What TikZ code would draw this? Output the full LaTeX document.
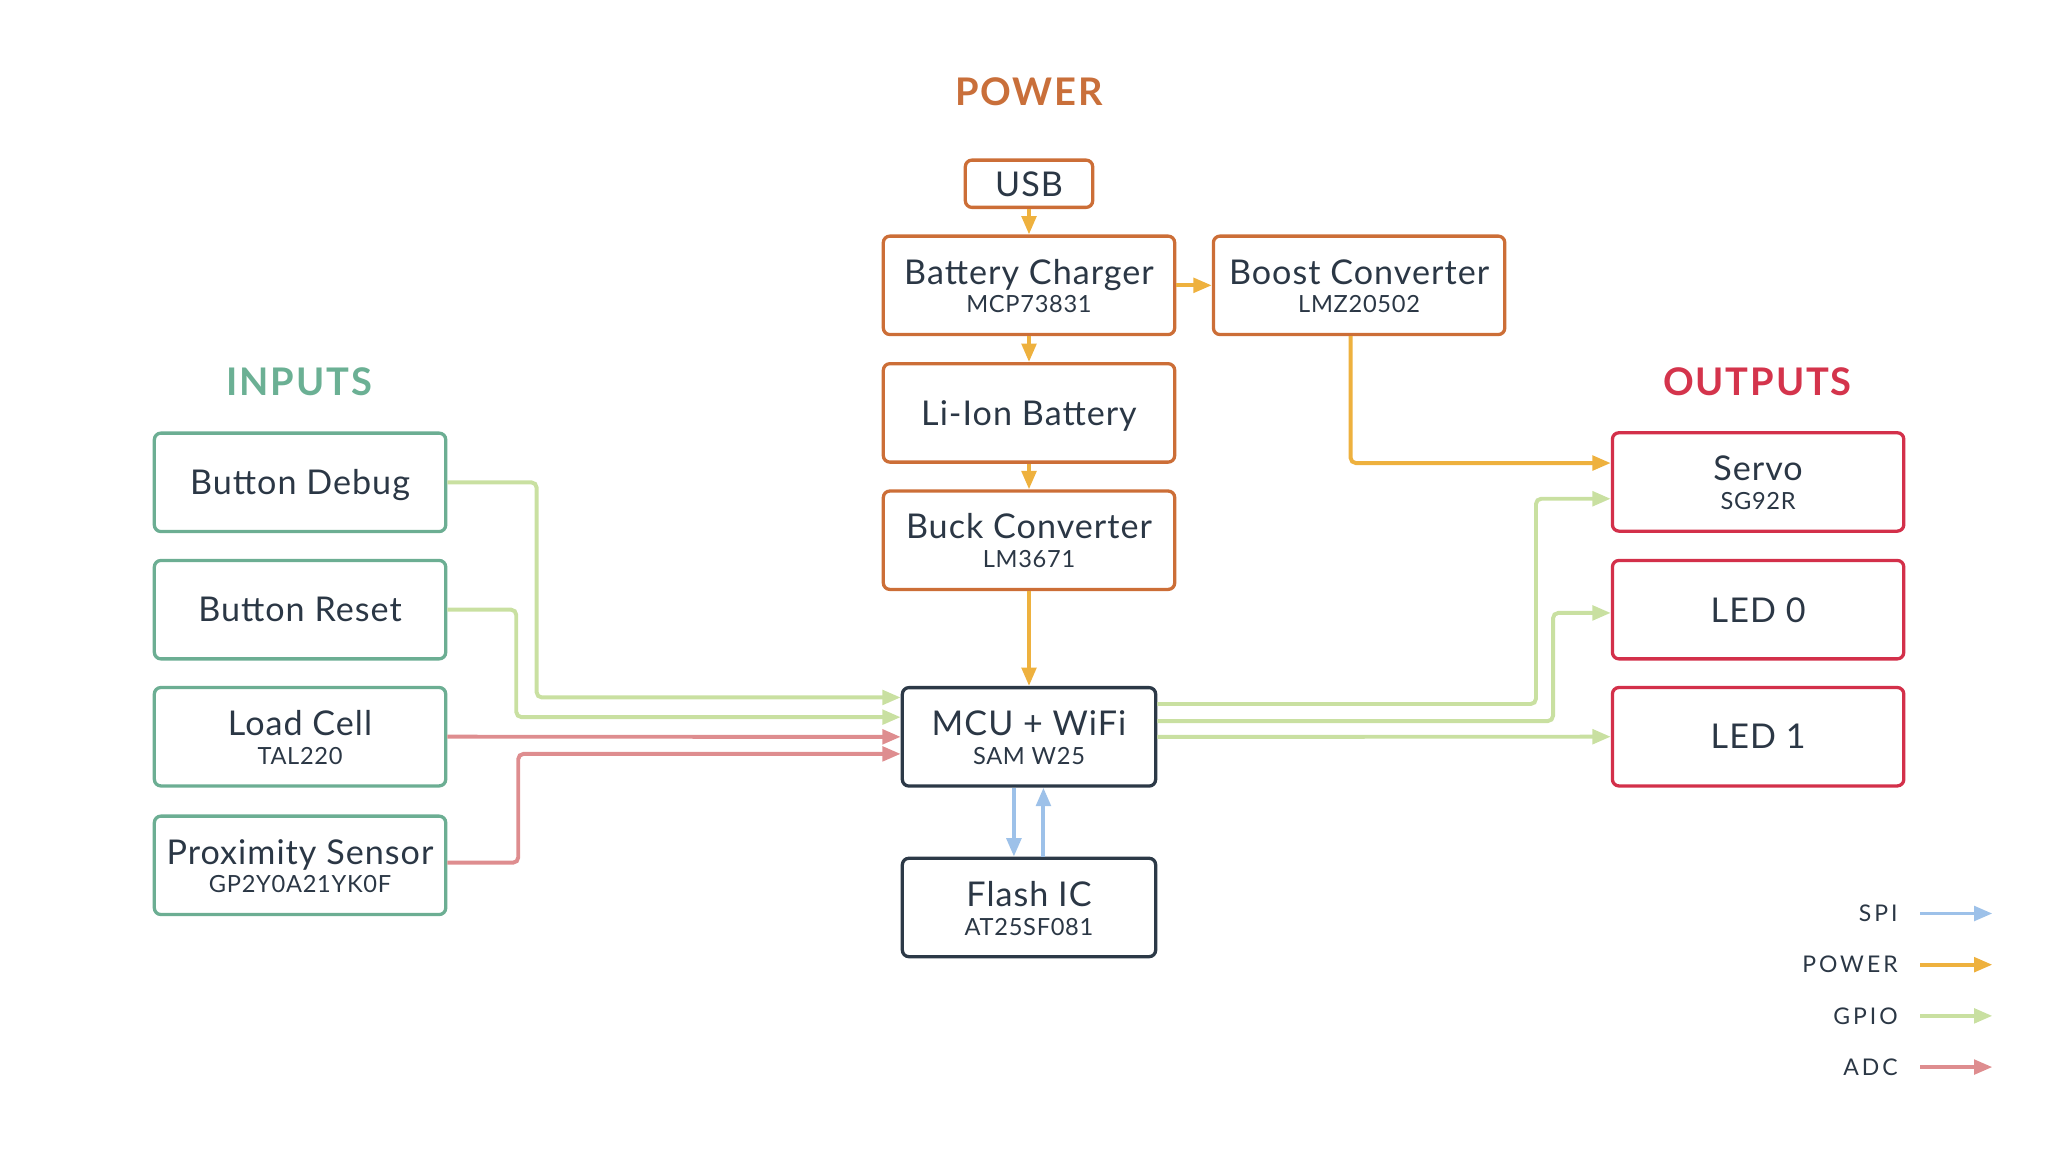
\documentclass[tikz,border=0pt]{standalone}
\usepackage{fontspec}
\setmainfont{Lato}[LetterSpace=3]
\usetikzlibrary{arrows.meta}
\definecolor{txt}{HTML}{2B3745}
\definecolor{pbox}{HTML}{CC6E37}
\definecolor{ibox}{HTML}{6CAE93}
\definecolor{obox}{HTML}{D3304A}
\definecolor{mbox}{HTML}{2C3947}
\definecolor{powc}{HTML}{EEB13E}
\definecolor{gpioc}{HTML}{C9E0A1}
\definecolor{adcc}{HTML}{DE8D8F}
\definecolor{spic}{HTML}{9DC1E9}
\definecolor{tpow}{HTML}{C96F3A}
\definecolor{tin}{HTML}{6BB094}
\definecolor{tout}{HTML}{D4344C}
\newcommand{\subt}{\fontsize{18}{18}\selectfont}
\newcommand{\twol}[2]{\rule{0pt}{20pt}#1\\{\subt #2}}
\begin{document}
\begin{tikzpicture}[x=1pt,y=-1pt,
  box/.style={draw, line width=2.5pt, rounded corners=5pt, minimum width=222pt, minimum height=75pt,
    inner sep=0pt, text=txt, align=center, text depth=0pt, font=\fontsize{26}{22}\selectfont},
  pbx/.style={box, draw=pbox},
  ibx/.style={box, draw=ibox},
  obx/.style={box, draw=obox},
  mbx/.style={box, draw=mbox, minimum width=193pt},
  title/.style={font=\bfseries\fontsize{29}{29}\selectfont\addfontfeatures{LetterSpace=5}},
  wire/.style={line width=3pt, rounded corners=4pt, -{Triangle[length=14pt,width=11pt]}},
  pw/.style={wire, draw=powc, color=powc},
  gp/.style={wire, draw=gpioc, color=gpioc},
  ad/.style={wire, draw=adcc, color=adcc},
  sp/.style={wire, draw=spic, color=spic},
  leg/.style={anchor=east, inner sep=0pt, text=txt, font=\fontsize{17.5}{17.5}\selectfont\addfontfeatures{LetterSpace=13}},
]
\useasboundingbox (0,0) rectangle (1568,882);

% titles
\node[title, text=tpow] (tpower) at (784,70) {POWER};
\node[title, text=tin] (tinputs) at (228,291) {INPUTS};
\node[title, text=tout] (toutputs) at (1339,291) {OUTPUTS};

% power boxes
\node[pbx, minimum width=97pt, minimum height=36pt] (usb) at (784,140) {USB};
\node[pbx] (bc) at (784,217.4) {\twol{Battery Charger}{MCP73831}};
\node[pbx] (boost) at (1035.5,217.4) {\twol{Boost Converter}{LMZ20502}};
\node[pbx] (li) at (784,314.6) {Li-Ion Battery};
\node[pbx] (buck) at (784,411.6) {\twol{Buck Converter}{LM3671}};

% MCU and flash
\node[mbx] (mcu) at (784,561.4) {\twol{MCU + WiFi}{SAM W25}};
\node[mbx] (flash) at (784,691.4) {\twol{Flash IC}{AT25SF081}};

% inputs
\node[ibx] (bdebug) at (228.6,367.5) {Button Debug};
\node[ibx] (breset) at (228.6,464.5) {Button Reset};
\node[ibx] (load) at (228.6,561.3) {\twol{Load Cell}{TAL220}};
\node[ibx] (prox) at (228.6,659.3) {\twol{Proximity Sensor}{GP2Y0A21YK0F}};

% outputs
\node[obx] (servo) at (1339.5,367.2) {\twol{Servo}{SG92R}};
\node[obx] (led0) at (1339.5,464.5) {LED 0};
\node[obx] (led1) at (1339.5,561.3) {LED 1};

% power connectors
\draw[pw] (usb) -- (bc);
\draw[pw] (bc) -- (boost);
\draw[pw] (bc) -- (li);
\draw[pw] (li) -- (buck);
\draw[pw] (buck) -- (mcu);
\draw[pw] ([xshift=-6.5pt]boost.south) |- ([yshift=14.4pt]servo.west);

% inputs to MCU
\draw[gp] (bdebug.east) -- ++(68,0) |- ([yshift=30pt]mcu.west);
\draw[gp] (breset.east) -- ++(52.5,0) |- ([yshift=15pt]mcu.west);
\draw[ad] (load.east) -- (mcu.west);
\draw[ad] ([yshift=2pt]prox.east) -- ++(54,0) |- ([yshift=-13pt]mcu.west);

% MCU to outputs
\draw[gp] ([yshift=25pt]mcu.east) -| ([xshift=-57pt,yshift=-12.8pt]servo.west) -- ([yshift=-12.8pt]servo.west);
\draw[gp] ([yshift=12pt]mcu.east) -| ([xshift=-44pt,yshift=-2.5pt]led0.west) -- ([yshift=-2.5pt]led0.west);
\draw[gp] (mcu.east) -- (led1.west);

% SPI
\draw[sp] ([xshift=-11.5pt]mcu.south) -- ([xshift=-11.5pt]flash.north);
\draw[sp] ([xshift=11pt]flash.north) -- ([xshift=11pt]mcu.south);

% legend
\node[leg] (lspi) at (1446,696) {SPI};
\node[leg] (lpow) at (1446,735) {POWER};
\node[leg] (lgpio) at (1446,774) {GPIO};
\node[leg] (ladc) at (1446,813) {ADC};
\coordinate (a1) at (1463,696); \coordinate (b1) at (1518,696);
\coordinate (a2) at (1463,735); \coordinate (b2) at (1518,735);
\coordinate (a3) at (1463,774); \coordinate (b3) at (1518,774);
\coordinate (a4) at (1463,813); \coordinate (b4) at (1518,813);
\draw[sp] (a1) -- (b1);
\draw[pw] (a2) -- (b2);
\draw[gp] (a3) -- (b3);
\draw[ad] (a4) -- (b4);
\end{tikzpicture}
\end{document}
